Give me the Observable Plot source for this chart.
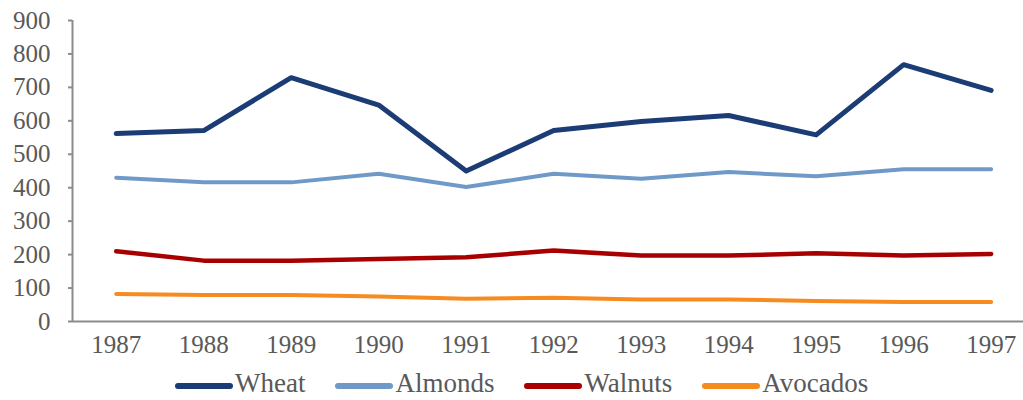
<!DOCTYPE html>
<html><head><meta charset="utf-8">
<script src="https://cdn.jsdelivr.net/npm/d3@7"></script>
<script src="https://cdn.jsdelivr.net/npm/@observablehq/plot@0.6"></script>
<style>
body{margin:0;background:#fff;font-family:"Liberation Serif",serif;}
#legend{display:flex;align-items:center;height:48px;padding-left:175px;box-sizing:border-box;}
.item{display:flex;align-items:center;margin-right:30px;}
.sw{width:58px;height:6px;border-radius:3px;margin-right:2px;}
.lab{display:inline-block;font-size:27px;color:#595959;white-space:nowrap;position:relative;top:-3px;}
</style></head>
<body>
<div id="chart"></div>
<div id="legend"></div>
<script>
const years = [1987,1988,1989,1990,1991,1992,1993,1994,1995,1996,1997];
const wheat = [562,571,729,647,450,571,598,616,558,768,691];
const almonds = [430,416,416,442,402,442,427,447,434,455,455];
const walnuts = [210,182,182,187,192,212,197,197,204,197,202];
const avocados = [82,79,79,75,68,71,66,66,61,58,58];
const seriesNames = ["Wheat","Almonds","Walnuts","Avocados"];
const seriesValues = [wheat, almonds, walnuts, avocados];
const seriesColors = ["#1b3c74","#6f9ac8","#a80000","#f68b1f"];
const seriesWidths = [5, 4, 4.5, 4];
const yTicks = [0,100,200,300,400,500,600,700,800,900];

const axisColor = "#8c8c8c";
const textColor = "#595959";

const lineMarks = [];
for (let i = seriesNames.length - 1; i >= 0; i--) {
  const data = years.map((yr, j) => ({year: yr, value: seriesValues[i][j]}));
  lineMarks.push(Plot.line(data, {x: "year", y: "value", stroke: seriesColors[i], strokeWidth: seriesWidths[i], strokeLinejoin: "round", strokeLinecap: "round"}));
}

const chart = Plot.plot({
  width: 1023,
  height: 362,
  marginLeft: 72,
  marginRight: 0,
  marginTop: 20,
  marginBottom: 41,
  style: {fontFamily: "'Liberation Serif', serif", fontSize: "25px", color: textColor, background: "#fff"},
  x: {type: "linear", domain: [1986.5, 1997.37]},
  y: {domain: [0, 900]},
  marks: [
    Plot.axisY({ticks: yTicks, tickSize: 4, tickPadding: 18, stroke: axisColor, strokeWidth: 2, fill: textColor, label: null, tickFormat: d => String(d)}),
    Plot.axisX({ticks: years, tickSize: 0, tickPadding: 14, fill: textColor, label: null, tickFormat: d => String(d)}),
    Plot.ruleX([1986.5], {y1: 0, y2: 900, stroke: axisColor, strokeWidth: 2}),
    Plot.ruleY([0], {stroke: axisColor, strokeWidth: 2}),
    ...lineMarks
  ]
});
document.getElementById("chart").appendChild(chart);

const legend = document.getElementById("legend");
seriesNames.forEach((name, i) => {
  const item = document.createElement("div");
  item.className = "item";
  const sw = document.createElement("div");
  sw.className = "sw";
  sw.style.background = seriesColors[i];
  const lab = document.createElement("span");
  lab.className = "lab";
  lab.textContent = name;
  item.appendChild(sw);
  item.appendChild(lab);
  legend.appendChild(item);
});
</script>
</body></html>
